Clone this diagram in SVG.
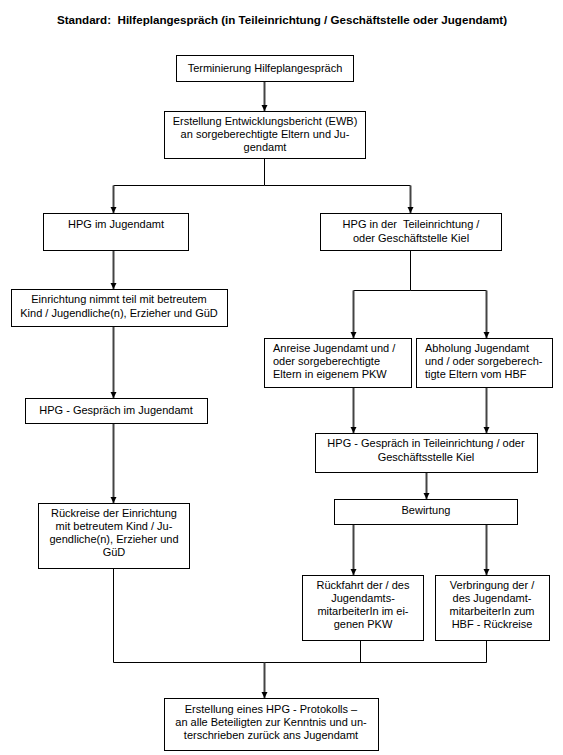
<svg xmlns="http://www.w3.org/2000/svg" width="563" height="755" viewBox="0 0 563 755">
<style>
.b{fill:#fff;stroke:#000;stroke-width:1}
.t{font-family:"Liberation Sans",Arial,sans-serif;font-size:11px;fill:#000;white-space:pre}
.c{text-anchor:middle}
.ttl{font-family:"Liberation Sans",Arial,sans-serif;font-size:11.6px;font-weight:bold;text-anchor:middle;fill:#000;white-space:pre}
.a{stroke:#444;stroke-width:2;fill:none;marker-end:url(#ah)}
.l{stroke:#000;stroke-width:1;fill:none}
</style>
<defs>
<marker id="ah" markerUnits="userSpaceOnUse" markerWidth="8" markerHeight="8" refX="6" refY="3.5" orient="auto">
<path d="M0,0.5 L6,3.5 L0,6.5 Z" fill="#000"/>
</marker>
</defs>
<rect width="563" height="755" fill="#fff"/>
<text class="ttl" x="282" y="24" xml:space="preserve">Standard:  Hilfeplangespräch (in Teileinrichtung / Geschäftstelle oder Jugendamt)</text>
<g id="connectors">
<path class="a" d="M264.5,82 V111"/>
<path class="l" d="M264.5,158 V185.5 H113.5"/>
<path class="l" d="M264.5,185.5 H410.5"/>
<path class="a" d="M113.5,185.5 V213"/>
<path class="a" d="M410.5,185.5 V213"/>
<path class="a" d="M113.5,250 V289"/>
<path class="l" d="M410.5,250 V290.5 H353.5"/>
<path class="l" d="M410.5,290.5 H486.5"/>
<path class="a" d="M353.5,290.5 V338"/>
<path class="a" d="M486.5,290.5 V338"/>
<path class="a" d="M113.5,327 V398"/>
<path class="a" d="M113.5,424 V503"/>
<path class="a" d="M353.5,387 V433"/>
<path class="a" d="M486.5,387 V433"/>
<path class="a" d="M426.5,473 V499"/>
<path class="a" d="M353.5,525 V575"/>
<path class="a" d="M486.5,525 V575"/>
<path class="l" d="M113.5,568 V662.5 H486.5"/>
<path class="l" d="M360.5,641 V662.5"/>
<path class="l" d="M486.5,641 V662.5"/>
<path class="a" d="M264.5,662.5 V698"/>
</g>
<g id="n1"><rect class="b" x="176.5" y="55.5" width="177" height="26"/><text class="t c" x="265" y="72">Terminierung Hilfeplangespräch</text></g>
<g id="n2"><rect class="b" x="164.5" y="111.5" width="201" height="47"/><text class="t c" x="265" y="125">Erstellung Entwicklungsbericht (EWB)</text><text class="t c" x="265" y="138">an sorgeberechtigte Eltern und Ju-</text><text class="t c" x="265" y="151">gendamt</text></g>
<g id="n3"><rect class="b" x="43.5" y="213.5" width="145" height="37"/><text class="t c" x="116" y="228">HPG im Jugendamt</text></g>
<g id="n4"><rect class="b" x="320.5" y="213.5" width="181" height="37"/><text class="t c" x="411" y="228" xml:space="preserve">HPG in der  Teileinrichtung /</text><text class="t c" x="411" y="242">oder Geschäftstelle Kiel</text></g>
<g id="n5"><rect class="b" x="11.5" y="289.5" width="216" height="37"/><text class="t c" x="119" y="303">Einrichtung nimmt teil mit betreutem</text><text class="t c" x="119" y="317">Kind / Jugendliche(n), Erzieher und GüD</text></g>
<g id="n6"><rect class="b" x="264.5" y="338.5" width="147" height="49"/><text class="t" x="273" y="352">Anreise Jugendamt und /</text><text class="t" x="273" y="365">oder sorgeberechtigte</text><text class="t" x="273" y="378">Eltern in eigenem PKW</text></g>
<g id="n7"><rect class="b" x="416.5" y="338.5" width="136" height="49"/><text class="t" x="425" y="352">Abholung Jugendamt</text><text class="t" x="425" y="365">und / oder sorgeberech-</text><text class="t" x="425" y="378">tigte Eltern vom HBF</text></g>
<g id="n8"><rect class="b" x="25.5" y="398.5" width="182" height="25"/><text class="t c" x="116" y="414">HPG - Gespräch im Jugendamt</text></g>
<g id="n9"><rect class="b" x="315.5" y="433.5" width="222" height="39"/><text class="t c" x="426" y="447">HPG - Gespräch in Teileinrichtung / oder</text><text class="t c" x="426" y="461">Geschäftsstelle Kiel</text></g>
<g id="n10"><rect class="b" x="38.5" y="503.5" width="151" height="65"/><text class="t c" x="114" y="517">Rückreise der Einrichtung</text><text class="t c" x="114" y="530">mit betreutem Kind / Ju-</text><text class="t c" x="114" y="543">gendliche(n), Erzieher und</text><text class="t c" x="114" y="556">GüD</text></g>
<g id="n11"><rect class="b" x="334.5" y="499.5" width="183" height="25"/><text class="t c" x="426" y="514">Bewirtung</text></g>
<g id="n12"><rect class="b" x="302.5" y="575.5" width="121" height="65"/><text class="t c" x="363" y="589">Rückfahrt der / des</text><text class="t c" x="363" y="602">Jugendamts-</text><text class="t c" x="363" y="615">mitarbeiterIn im ei-</text><text class="t c" x="363" y="628">genen PKW</text></g>
<g id="n13"><rect class="b" x="435.5" y="575.5" width="114" height="65"/><text class="t c" x="492" y="589">Verbringung der /</text><text class="t c" x="492" y="602">des Jugendamt-</text><text class="t c" x="492" y="615">mitarbeiterIn zum</text><text class="t c" x="492" y="628">HBF - Rückreise</text></g>
<g id="n14"><rect class="b" x="164.5" y="698.5" width="214" height="52"/><text class="t c" x="271" y="713">Erstellung eines HPG - Protokolls –</text><text class="t c" x="271" y="726">an alle Beteiligten zur Kenntnis und un-</text><text class="t c" x="271" y="739">terschrieben zurück ans Jugendamt</text></g>
</svg>
